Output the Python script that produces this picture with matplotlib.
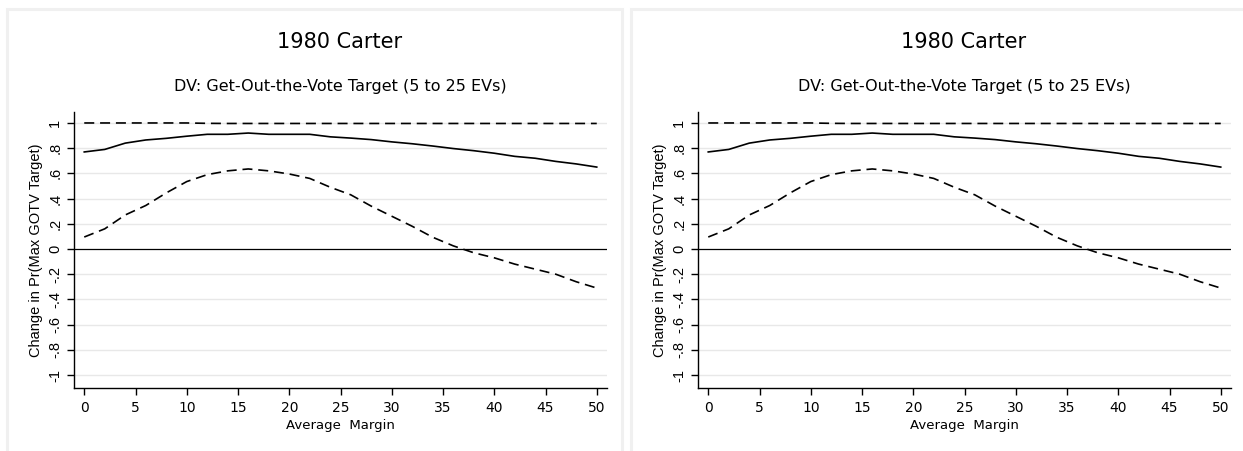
import matplotlib
matplotlib.use('Agg')
import matplotlib.pyplot as plt
from matplotlib.patches import Rectangle

plt.rcParams['font.family'] = ['Liberation Sans', 'DejaVu Sans']

margin = [0, 2, 4, 6, 8, 10, 12, 14, 16, 18, 20, 22, 24, 26, 28, 30, 32, 34, 36, 38, 40, 42, 44, 46, 48, 50]
effect = [0.77, 0.79, 0.84, 0.865, 0.878, 0.895, 0.91, 0.91, 0.92, 0.91, 0.91, 0.91, 0.89,
          0.88, 0.868, 0.85, 0.835, 0.817, 0.797, 0.78, 0.76, 0.735, 0.72, 0.695, 0.675, 0.65]
lower = [0.095, 0.16, 0.27, 0.345, 0.445, 0.535, 0.59, 0.62, 0.635, 0.62, 0.595, 0.56, 0.49,
         0.43, 0.34, 0.26, 0.18, 0.093, 0.025, -0.03, -0.07, -0.12, -0.16, -0.20, -0.26, -0.31]
upper = [1.0, 1.0, 1.0, 1.0, 1.0, 1.0, 0.997, 0.996, 0.996, 0.996, 0.996, 0.996, 0.996,
         0.996, 0.996, 0.996, 0.996, 0.996, 0.996, 0.996, 0.996, 0.996, 0.996, 0.996, 0.996, 0.996]

yticks = [-1, -0.8, -0.6, -0.4, -0.2, 0, 0.2, 0.4, 0.6, 0.8, 1]
ylabels = ['-1', '-.8', '-.6', '-.4', '-.2', '0', '.2', '.4', '.6', '.8', '1']
xticks = [0, 5, 10, 15, 20, 25, 30, 35, 40, 45, 50]

W, H = 1243, 451
fig = plt.figure(figsize=(W / 100, H / 100), dpi=100)
wide = ['DejaVu Sans']


def panel(x_off):
    # light frame around each graph
    fig.add_artist(Rectangle(((x_off + 7) / W, -0.05), 615 / W, 1.05 - 9 / H,
                             transform=fig.transFigure, fill=False,
                             edgecolor='#f0f0f0', linewidth=2.2))
    ax = fig.add_axes([(x_off + 74) / W, 1 - 388 / H, 533 / W, 276 / H])
    ax.set_xlim(-1, 51)
    ax.set_ylim(-1.103, 1.087)
    for t in yticks:
        if t != 0:
            ax.axhline(t, color='#e8e8e8', linewidth=1, zorder=0)
    ax.axhline(0, color='black', linewidth=0.9, zorder=1)
    dash = (0, (6, 3.5))
    ax.plot(margin, upper, color='black', linewidth=1.2, linestyle=dash)
    ax.plot(margin, effect, color='black', linewidth=1.2)
    ax.plot(margin, lower, color='black', linewidth=1.2, linestyle=dash)
    ax.spines['top'].set_visible(False)
    ax.spines['right'].set_visible(False)
    ax.spines['left'].set_linewidth(1)
    ax.spines['bottom'].set_linewidth(1)
    ax.set_yticks(yticks)
    ax.set_yticklabels(ylabels, rotation=90, va='center', fontsize=10.5)
    ax.set_xticks(xticks)
    ax.set_xticklabels([str(v) for v in xticks], fontsize=10, family=wide)
    ax.tick_params(direction='out', length=5, width=1)
    ax.tick_params(axis='x', pad=4)
    ax.set_xlabel('Average  Margin', fontsize=9.5, labelpad=3, family=wide)
    ax.set_ylabel('Change in Pr(Max GOTV Target)', fontsize=10.5, labelpad=4)
    ax.set_facecolor('white')
    cx = (x_off + 340) / W
    fig.text(cx, 1 - 42 / H, '1980 Carter', ha='center', va='center',
             fontsize=15, family=wide)
    fig.text(cx, 1 - 86 / H, 'DV: Get-Out-the-Vote Target (5 to 25 EVs)',
             ha='center', va='center', fontsize=11.5, family=wide)
    return ax


panel(0)
panel(624)

fig.savefig('out.png', dpi=100, facecolor='white')
